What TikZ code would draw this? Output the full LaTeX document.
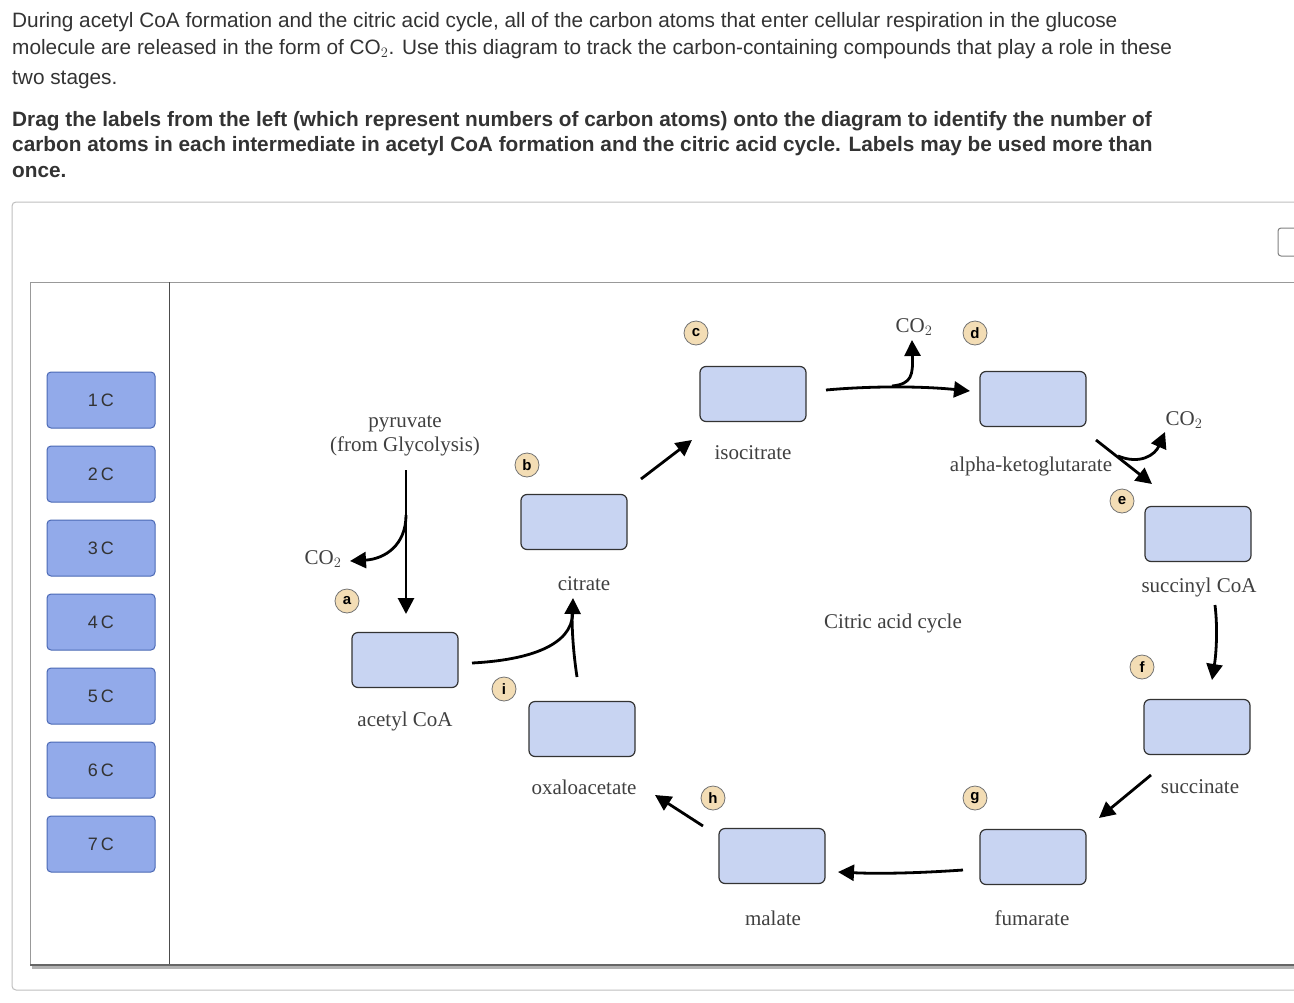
\documentclass[tikz,border=0pt]{standalone}
\usepackage{fontspec}
\setmainfont{Liberation Sans}
\newfontfamily\dserif{Liberation Serif}
\usetikzlibrary{arrows.meta}
\definecolor{lab}{HTML}{92AAEA}
\definecolor{labd}{HTML}{4B69B5}
\definecolor{bx}{HTML}{C8D4F2}
\definecolor{cir}{HTML}{F3DDB5}
\definecolor{txt}{HTML}{333333}
\begin{document}
\begin{tikzpicture}[x=1pt,y=-1pt,
  lab/.style={draw=labd,fill=lab,rounded corners=4pt,line width=1pt,minimum width=108pt,minimum height=56pt,font=\fontsize{18}{18}\selectfont,text=txt},
  bx/.style={draw=black!80,fill=bx,rounded corners=6pt,line width=1.2pt,minimum width=106pt,minimum height=55pt},
  dl/.style={font=\dserif\fontsize{21}{24}\selectfont,text=black!75,align=center},
  cl/.style={circle,draw=black!55,fill=cir,line width=0.8pt,minimum size=24pt,inner sep=0pt,font=\bfseries\fontsize{15}{15}\selectfont},
  ar/.style={line width=2.8pt,-{Triangle[length=16pt,width=16pt]}},
  pl/.style={line width=2.8pt}]
\useasboundingbox (0,0) rectangle (1294,1002);
\fill[white] (0,0) rectangle (1294,1002);
% header
\node[anchor=north west,align=left,font=\fontsize{20.8}{27}\selectfont,text=txt,inner sep=0pt] (h1) at (12,12)
 {During acetyl CoA formation and the citric acid cycle, all of the carbon atoms that enter cellular respiration in the glucose\\
 molecule are released in the form of CO$_2$. Use this diagram to track the carbon-containing compounds that play a role in these\\[3pt]
 two stages.};
\node[anchor=north west,align=left,font=\bfseries\fontsize{20.8}{25.5}\selectfont,text=txt,inner sep=0pt] (h2) at (12,111)
 {Drag the labels from the left (which represent numbers of carbon atoms) onto the diagram to identify the number of\\
 carbon atoms in each intermediate in acetyl CoA formation and the citric acid cycle. Labels may be used more than\\
 once.};
% panels
\draw[black!25,line width=1pt,rounded corners=4pt] (1300,202) -- (12,202) -- (12,990) -- (1300,990);
\draw[black!50,line width=1pt,rounded corners=3pt] (1300,228) -- (1278,228) -- (1278,256) -- (1300,256);
\draw[black!40,line width=1pt] (1294,282) -- (30,282) -- (30,965);
\draw[black!70,line width=1pt] (169,282) -- (169,965);
\draw[black!30,line width=4pt] (32,967) -- (1294,967);
\draw[black!60,line width=1.2pt] (30,965) -- (1294,965);
% labels
\foreach \n/\y in {1/400,2/474,3/548,4/622,5/696,6/770,7/844}
  \node[lab] (l\n) at (101,\y) {\n\,C};
% boxes
\node[bx] (acoa) at (405,660) {};
\node[bx] (cit) at (574,522) {};
\node[bx] (iso) at (753,394) {};
\node[bx] (akg) at (1033,399) {};
\node[bx] (scoa) at (1198,534) {};
\node[bx] (succ) at (1197,727) {};
\node[bx] (fum) at (1033,857) {};
\node[bx] (mal) at (772,856) {};
\node[bx] (oaa) at (582,729) {};
% texts
\node[dl] (tpyr) at (405,436) {pyruvate\\(from Glycolysis)};
\node[dl] (tco1) at (323,559) {CO$_2$};
\node[dl] (tacoa) at (405,721) {acetyl CoA};
\node[dl] (tcit) at (584,584) {citrate};
\node[dl] (tiso) at (753,453) {isocitrate};
\node[dl] (tco2) at (914,327) {CO$_2$};
\node[dl] (takg) at (1031,466) {alpha-ketoglutarate};
\node[dl] (tco3) at (1184,420) {CO$_2$};
\node[dl] (tscoa) at (1199,587) {succinyl CoA};
\node[dl] (tcyc) at (893,623) {Citric acid cycle};
\node[dl] (tsucc) at (1200,787) {succinate};
\node[dl] (tfum) at (1032,918) {fumarate};
\node[dl] (tmal) at (773,918) {malate};
\node[dl] (toaa) at (584,787) {oxaloacetate};
% circles
\foreach \l/\x/\y in {a/347/601,b/527/465,c/696/333,d/975/333,e/1122/501,f/1142/667,g/975/798,h/713/798,i/504/689}
  \node[cl] (c\l) at (\x,\y) {\l};
% arrows
\coordinate (p0) at (406,470); \coordinate (p1) at (406,614);
\draw[ar] (p0) -- (p1);
\coordinate (pb) at (406,515); \coordinate (pc) at (350,561);
\draw[ar] (pb) .. controls (406,545) and (385,559) .. (pc);
\coordinate (ac0) at (472,663); \coordinate (ac1) at (573,598);
\draw[ar] (ac0) .. controls (530,660) and (572,645) .. (ac1);
\coordinate (ox0) at (577,677);
\draw[pl] (ox0) .. controls (573,650) and (572,630) .. (572,612);
\coordinate (ci0) at (641,479); \coordinate (ci1) at (692,440);
\draw[ar] (ci0) -- (ci1);
\coordinate (is0) at (826,390); \coordinate (is1) at (970,391);
\draw[ar] (is0) .. controls (870,386) and (920,386) .. (is1);
\coordinate (co2b) at (912,340);
\draw[ar] (892,386) .. controls (912,384) and (913,375) .. (co2b);
\coordinate (ak0) at (1096,440); \coordinate (ak1) at (1152,484);
\draw[ar] (ak0) -- (ak1);
\coordinate (co3b) at (1165,432);
\draw[ar] (1118,456) .. controls (1140,465) and (1155,455) .. (co3b);
\coordinate (sc0) at (1215,605); \coordinate (sc1) at (1212,680);
\draw[ar] (sc0) .. controls (1218,630) and (1216,655) .. (sc1);
\coordinate (su0) at (1151,775); \coordinate (su1) at (1099,818);
\draw[ar] (su0) -- (su1);
\coordinate (fu0) at (963,870); \coordinate (fu1) at (838,872);
\draw[ar] (fu0) .. controls (920,873) and (880,874) .. (fu1);
\coordinate (ma0) at (703,826); \coordinate (ma1) at (655,795);
\draw[ar] (ma0) -- (ma1);
\end{tikzpicture}
\end{document}
